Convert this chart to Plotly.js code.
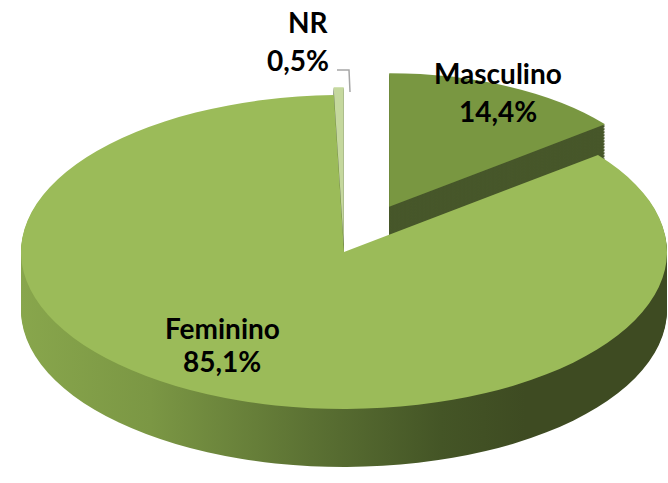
<!DOCTYPE html>
<html><head><meta charset="utf-8">
<script src="https://cdn.plot.ly/plotly-3.0.1.min.js"></script>
<style>html,body{margin:0;padding:0;background:#fff;overflow:hidden}#chart{width:668px;height:483px}</style>
</head><body>
<svg width="0" height="0" style="position:absolute"><defs>
<linearGradient id="femSide" x1="0" y1="0" x2="1" y2="0">
 <stop offset="0" stop-color="#88A64C"/>
 <stop offset="0.2" stop-color="#7B9744"/>
 <stop offset="0.45" stop-color="#5B7133"/>
 <stop offset="0.65" stop-color="#445526"/>
 <stop offset="0.78" stop-color="#3E4B22"/>
 <stop offset="1" stop-color="#3E4B22"/>
</linearGradient>
</defs></svg>
<div id="chart"></div>
<script>
// ---- data ----
const labels = ['Masculino', 'Feminino', 'NR'];
const values = [14.4, 85.1, 0.5];

// ---- styling (not data) ----
const pulls = [0.32, 0, 0.05];
const shrink = [0.85, 1, 1];      // depth-effect scale for exploded slices
const topColors = ['#799741', '#9BBB59', '#C5D89E'];
const sideColors = ['#47572A', '#6E8A3E', '#66725A'];
const labelPos = {              // pixel placement of the two label lines
  'Masculino': {x: 498, y1: 73, y2: 111, anchor: 'center'},
  'Feminino':  {x: 222, y1: 328, y2: 361, anchor: 'center'},
  'NR':        {x: 331, y1: 22, y2: 60, anchor: 'right'}
};
const W = 668, H = 483;
const CX = 344, CY = 252, RX = 323, RY = 157, THICK = 58, STEP = 1.5;

function fmt(v) { return v.toFixed(1).replace('.', ',') + '%'; }

const offsets = [];
for (let k = THICK; k > 0; k -= STEP) offsets.push(k);
offsets.push(0);

const traces = offsets.map(off => ({
  type: 'pie',
  labels: labels,
  values: values,
  sort: false,
  direction: 'clockwise',
  rotation: 0,
  pull: pulls,
  textinfo: 'none',
  hoverinfo: 'none',
  showlegend: false,
  domain: {x: [0, 1], y: [0, 1]},
  marker: {colors: off === 0 ? topColors : sideColors, line: {width: 0}}
}));

const annotations = [];
labels.forEach((lab, i) => {
  const p = labelPos[lab];
  const f = {family: 'Lato, "Open Sans", sans-serif', size: 28, color: '#000000', weight: 'bold'};
  annotations.push({xref: 'paper', yref: 'paper', x: p.x / W, y: 1 - p.y1 / H, text: lab,
    showarrow: false, xanchor: p.anchor, yanchor: 'middle', font: f});
  annotations.push({xref: 'paper', yref: 'paper', x: p.x / W, y: 1 - p.y2 / H, text: fmt(values[i]),
    showarrow: false, xanchor: p.anchor, yanchor: 'middle', font: f});
});

const layout = {
  width: W, height: H,
  margin: {l: 0, r: 0, t: 0, b: 0},
  paper_bgcolor: '#ffffff',
  showlegend: false,
  annotations: annotations,
  shapes: [{type: 'path', xref: 'paper', yref: 'paper',
    path: 'M ' + (337 / W) + ',' + (1 - 70 / H) + ' L ' + (349 / W) + ',' + (1 - 70 / H) + ' L ' + (350 / W) + ',' + (1 - 92 / H),
    line: {color: '#A6A6A6', width: 1.5}}]
};

Plotly.newPlot('chart', traces, layout, {staticPlot: true, displayModeBar: false}).then(gd => {
  const groups = gd.querySelectorAll('.pielayer g.trace');
  groups.forEach((g, i) => {
    const cdi = gd.calcdata[i];
    const cd0 = cdi[0];
    let cx = cd0.cx, cy = cd0.cy, r = cd0.r;
    if (!isFinite(cx) || !isFinite(r)) {
      cx = W / 2; cy = H / 2; r = Math.min(W, H) / 2 / (1 + Math.max(...pulls));
    }
    const off = offsets[i];
    const sx = RX / r, sy = RY / r;
    g.setAttribute('transform',
      'translate(' + CX + ',' + (CY + off) + ') scale(' + sx + ',' + sy + ') translate(' + (-cx) + ',' + (-cy) + ')');
    const paths = g.querySelectorAll('g.slice path.surface');
    paths.forEach((p, k) => {
      const pt = cdi[k];
      if (shrink[k] !== 1 && pt && pt.pxmid) {
        const ax = cx + pulls[k] * pt.pxmid[0], ay = cy + pulls[k] * pt.pxmid[1];
        p.setAttribute('transform', 'translate(' + ax + ',' + ay + ') scale(' + shrink[k] + ') translate(' + (-ax) + ',' + (-ay) + ')');
      }
    });
    if (off > 0 && paths[1]) paths[1].style.fill = 'url(#femSide)';
  });
});
</script>
</body></html>
